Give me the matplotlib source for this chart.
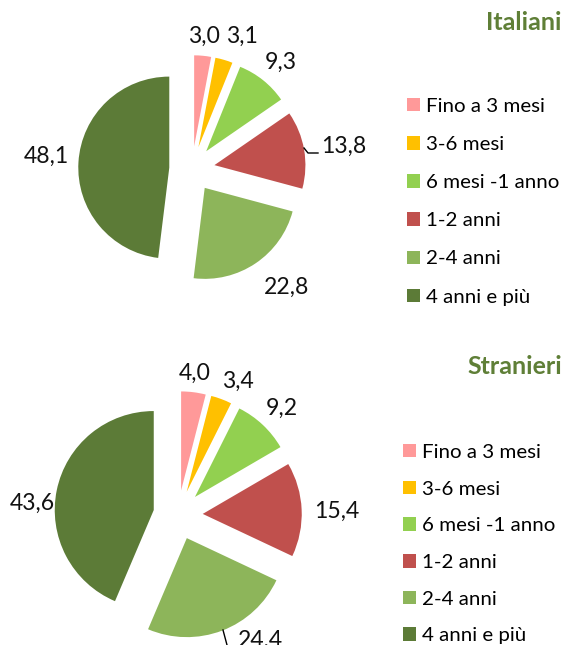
import numpy as np
import matplotlib.pyplot as plt
from matplotlib.patches import Patch

# data
categories = ['Fino a 3 mesi', '3-6 mesi', '6 mesi -1 anno', '1-2 anni', '2-4 anni', '4 anni e più']
italiani = [3.0, 3.1, 9.3, 13.8, 22.8, 48.1]
stranieri = [4.0, 3.4, 9.2, 15.4, 24.4, 43.6]
colors = ['#FF9999', '#FFC000', '#92D050', '#C0504D', '#8DB55A', '#5C7B37']

W, H = 562, 645
DPI = 100
plt.rcParams['font.family'] = ['Lato', 'DejaVu Sans']
fig = plt.figure(figsize=(W / DPI, H / DPI), dpi=DPI)

def px(v):
    return v * 72 / DPI

def fmt(v):
    return ('%.1f' % v).replace('.', ',')

def to_data(p, cx, cy, r):
    return (p[0] - cx) / r, (cy - p[1]) / r

def draw(vals, cx, cy, r, label_pos, title, title_y, leg_x, leg_y, leg_sp, leader):
    # axes where radius 1 == r pixels, centred on (cx, cy) in image pixels
    ax = fig.add_axes([(cx - 2 * r) / W, 1 - (cy + 2 * r) / H, 4 * r / W, 4 * r / H])
    ax.pie(vals, colors=colors, startangle=90, counterclock=False,
           explode=[0.25] * len(vals), radius=1,
           wedgeprops=dict(linewidth=0))
    ax.set_xlim(-2, 2)
    ax.set_ylim(-2, 2)
    ax.axis('off')
    for v, p in zip(vals, label_pos):
        x, y = to_data(p, cx, cy, r)
        ax.text(x, y, fmt(v), ha='center', va='center', fontsize=px(23), color='#111111')
    lx, ly = zip(*[to_data(p, cx, cy, r) for p in leader])
    ax.plot(lx, ly, color='black', lw=1, clip_on=False)
    fig.text(1.0, 1 - title_y / H, title, ha='right', va='center', fontsize=px(25),
             fontweight='bold', color='#5F7F37')
    handles = [Patch(facecolor=c, edgecolor='none') for c in colors]
    fig.legend(handles, categories, loc='upper left',
               bbox_to_anchor=(leg_x / W, 1 - leg_y / H), frameon=False,
               fontsize=px(20.5), handlelength=0.63, handleheight=0.63,
               handletextpad=0.3, labelspacing=leg_sp, borderpad=0,
               borderaxespad=0)

draw(italiani, 192, 169, 91,
     [(204, 36), (242, 36), (281, 62), (344, 146), (287, 287), (46, 156)],
     'Italiani', 23, 407, 98, 1.03,
     [(304, 148), (308, 153), (318, 153)])

draw(stranieri, 178, 515, 99,
     [(195, 373), (238, 381), (282, 408), (337, 511), (260, 640), (32, 503)],
     'Stranieri', 366, 403, 444, 0.96,
     [(223, 630), (227, 645)])

fig.savefig('out.png', dpi=DPI)
